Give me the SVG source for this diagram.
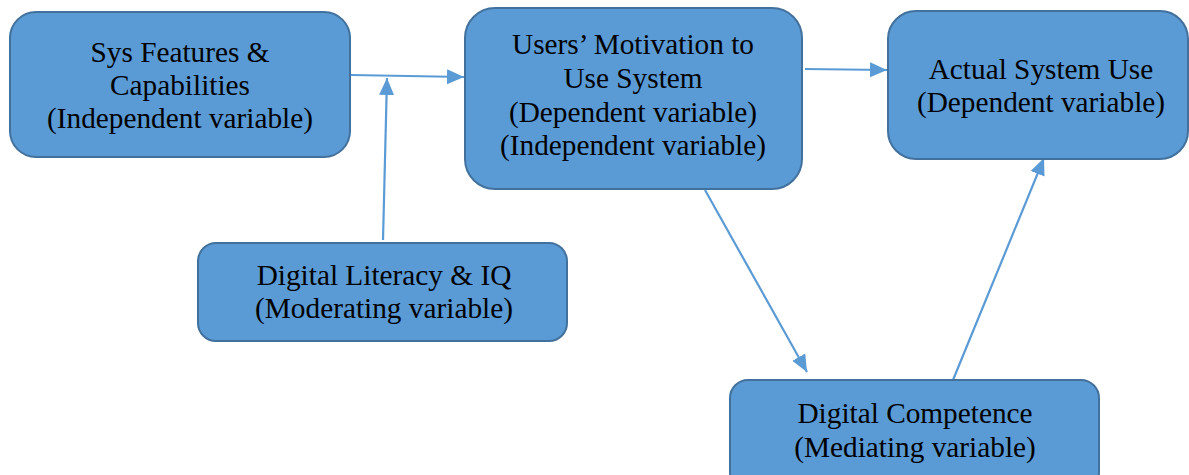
<svg xmlns="http://www.w3.org/2000/svg" width="1189" height="475" viewBox="0 0 1189 475">
<style>
.box{fill:#5B9BD5;stroke:#41719C;stroke-width:2}
.t{font-family:"Liberation Serif","Times New Roman",serif;font-size:29.3px;fill:#000;text-anchor:middle}
.c{stroke:#5B9BD5;stroke-width:2.2;fill:none;marker-end:url(#ah)}
</style>
<defs>
<marker id="ah" markerUnits="userSpaceOnUse" markerWidth="18" markerHeight="18" viewBox="0 0 18 18" refX="17" refY="9" orient="auto">
<path d="M0,1.5 L17,9 L0,16.5 Z" fill="#5B9BD5"/>
</marker>
</defs>
<rect width="1189" height="475" fill="#fff"/>
<g id="connectors">
<line class="c" x1="351" y1="75" x2="464" y2="77"/>
<line class="c" x1="383" y1="240" x2="387" y2="78"/>
<line class="c" x1="805" y1="69" x2="887" y2="70"/>
<line class="c" x1="705" y1="190" x2="807" y2="372"/>
<line class="c" x1="953" y1="380" x2="1044" y2="158"/>
</g>
<g id="sys-features">
<rect class="box" x="10" y="12" width="340" height="145" rx="26"/>
<text class="t" x="180" y="62">Sys Features &amp;</text>
<text class="t" x="180" y="95">Capabilities</text>
<text class="t" x="180" y="128">(Independent variable)</text>
</g>
<g id="users-motivation">
<rect class="box" x="465" y="8" width="337" height="181" rx="30"/>
<text class="t" x="633" y="54">Users’ Motivation to</text>
<text class="t" x="633" y="88">Use System</text>
<text class="t" x="633" y="122">(Dependent variable)</text>
<text class="t" x="633" y="155">(Independent variable)</text>
</g>
<g id="actual-use">
<rect class="box" x="888" y="11" width="300" height="148" rx="28"/>
<text class="t" x="1041" y="79">Actual System Use</text>
<text class="t" x="1041" y="112">(Dependent variable)</text>
</g>
<g id="digital-literacy">
<rect class="box" x="198" y="243" width="369" height="98" rx="18"/>
<text class="t" x="384" y="285">Digital Literacy &amp; IQ</text>
<text class="t" x="384" y="318">(Moderating variable)</text>
</g>
<g id="digital-competence">
<rect class="box" x="730" y="380" width="369" height="110" rx="18"/>
<text class="t" x="915" y="423">Digital Competence</text>
<text class="t" x="915" y="457">(Mediating variable)</text>
</g>
</svg>
